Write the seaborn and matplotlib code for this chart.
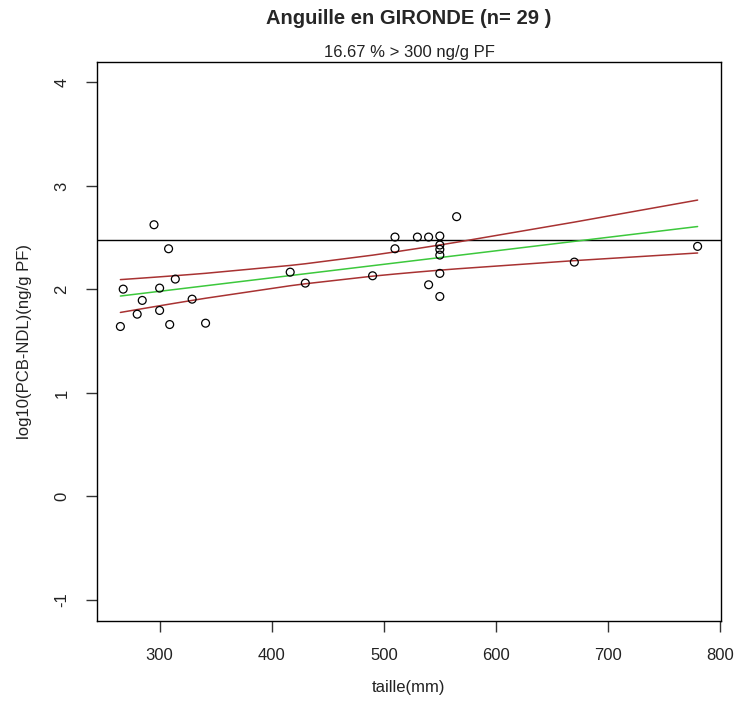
import numpy as np
import pandas as pd
import matplotlib
matplotlib.use("Agg")
import matplotlib.pyplot as plt
import seaborn as sns

# ---- data ----
taille = [295, 308, 314, 267.5, 300, 284.5, 329, 280, 300, 265, 309, 341,
          416.5, 430, 565, 510, 530, 540, 550, 510, 550, 550, 550, 670,
          490, 550, 540, 550, 780]
log_pcb = [2.625, 2.393, 2.100, 2.003, 2.013, 1.894, 1.906, 1.761, 1.797,
           1.642, 1.661, 1.674, 2.167, 2.061, 2.703, 2.506, 2.506, 2.506,
           2.516, 2.393, 2.429, 2.387, 2.332, 2.264, 2.132, 2.155, 2.045,
           1.932, 2.416]
seuil = 300
title = "Anguille en GIRONDE (n= 29 )"
subtitle = "16.67 % > 300 ng/g PF"
x_label = "taille(mm)"
y_label = "log10(PCB-NDL)(ng/g PF)"
x_ticks = [300, 400, 500, 600, 700, 800]
y_ticks = [-1, 0, 1, 2, 3, 4]

sns.set_style("white")
plt.rcParams['font.family'] = ['Liberation Sans', 'DejaVu Sans']

df = pd.DataFrame({"taille": taille, "y": log_pcb})

# linear regression with 95% confidence band
x = np.array(taille, dtype=float)
y = np.array(log_pcb, dtype=float)
n = len(x)
b1, b0 = np.polyfit(x, y, 1)
resid = y - (b0 + b1 * x)
s = np.sqrt(np.sum(resid ** 2) / (n - 2))
sxx = np.sum((x - x.mean()) ** 2)
t975 = 2.052  # t quantile, df = 27
xs = np.sort(np.unique(x))
fit = b0 + b1 * xs
se = s * np.sqrt(1.0 / n + (xs - x.mean()) ** 2 / sxx)
band = pd.DataFrame({"taille": xs, "fit": fit,
                     "lwr": fit - t975 * se, "upr": fit + t975 * se})

fig = plt.figure(figsize=(7.38, 7.11), dpi=100)
ax = fig.add_axes([97.3 / 738, 1 - 620.7 / 711, (720.7 - 97.3) / 738, (620.7 - 61.7) / 711])

sns.scatterplot(data=df, x="taille", y="y", ax=ax, marker="o", s=32,
                facecolor="none", edgecolor="black", linewidth=0.9, zorder=3)
ax.axhline(np.log10(seuil), color="black", lw=1.0, zorder=2)
sns.lineplot(data=band, x="taille", y="fit", ax=ax, color="#3CC83C", lw=1.1,
             estimator=None, sort=True, zorder=2)
sns.lineplot(data=band, x="taille", y="lwr", ax=ax, color="#A83232", lw=1.1,
             estimator=None, sort=True, zorder=2)
sns.lineplot(data=band, x="taille", y="upr", ax=ax, color="#A83232", lw=1.1,
             estimator=None, sort=True, zorder=2)

xr = max(taille) - min(taille)
ax.set_xlim(min(taille) - 0.04 * xr, max(taille) + 0.04 * xr)
ax.set_ylim(-1.2, 4.2)
ax.set_xticks(x_ticks)
ax.set_yticks(y_ticks)
ax.set_xticklabels([str(v) for v in x_ticks], fontsize=12, color="#222222")
ax.set_yticklabels([str(v) for v in y_ticks], fontsize=12, color="#222222",
                   rotation=90, va="center")
ax.tick_params(axis="both", direction="out", length=8, width=1.0,
               color="#333333", left=True, bottom=True, pad=12)
for sp in ax.spines.values():
    sp.set_visible(True)
    sp.set_color("black")
    sp.set_linewidth(1.0)

ax.set_xlabel(x_label, fontsize=12, color="#222222", labelpad=12)
ax.set_ylabel(y_label, fontsize=12, color="#222222", labelpad=16)

fig.text(409 / 738, 1 - 18 / 711, title, ha="center", va="center",
         fontsize=14.5, fontweight="bold")
fig.text(409 / 738, 1 - 52 / 711, subtitle, ha="center", va="center",
         fontsize=12, color="#222222")

fig.savefig("out.png", dpi=100, facecolor="white")
